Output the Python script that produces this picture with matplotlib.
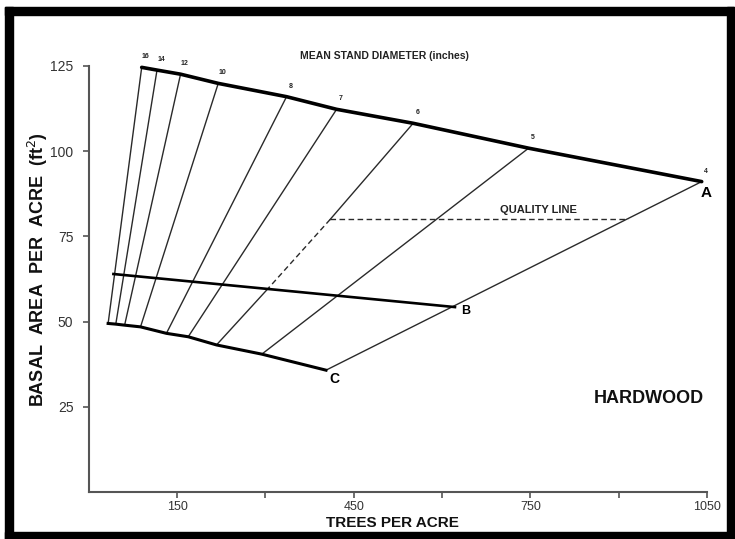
import numpy as np
import matplotlib
matplotlib.use("Agg")
import matplotlib.pyplot as plt
from matplotlib.patches import Rectangle

# mean stand diameter lines: where each one meets the A line and the C line
diameters = [16, 14, 12, 10, 8, 7, 6, 5, 4]
a_trees = [90, 116, 156, 220, 336, 421, 551, 747, 1041]
a_basal = [124.6, 123.8, 122.6, 119.9, 116.0, 112.3, 108.2, 100.9, 91.1]
c_trees = [33, 46, 61, 88, 132, 169, 217, 294, 403]
c_basal = [49.5, 49.3, 49.0, 48.5, 46.6, 45.6, 43.2, 40.5, 35.8]

# B line
b_trees = [42, 622]
b_basal = [64.0, 54.3]

# quality line, plus the dashed piece of the 6 inch line below it
quality_trees = [410, 916]
quality_basal = [80, 80]
dash_trees = [410, 306]
dash_basal = [80.0, 60.0]

yticks = [25, 50, 75, 100, 125]
xticks = [150, 450, 750, 1050]
xticks_minor = [300, 600, 900]

SANS = ['Liberation Sans', 'DejaVu Sans']

W, H = 735, 539
fig = plt.figure(figsize=(W / 100, H / 100), dpi=100)

# black scanned frame (pixel boxes: left, top, width, height)
for x0, y0, w, h in [(5, 7, 8, 532), (5, 7, 729, 8), (727, 7, 7, 532), (5, 532, 729, 7)]:
    fig.patches.append(Rectangle((x0 / W, 1 - (y0 + h) / H), w / W, h / H,
                                 transform=fig.transFigure, color='black', zorder=0))

ax = fig.add_axes([88.7 / W, 1 - 492.25 / H, (707 - 88.7) / W, (492.25 - 66) / H])
ax.set_xlim(0, 1050)
ax.set_ylim(0, 125)

line_col = '#2a2a2a'
# diameter lines
for i, d in enumerate(diameters):
    if d == 6:
        ax.plot([a_trees[i], dash_trees[0]], [a_basal[i], dash_basal[0]], color=line_col, lw=1.0, clip_on=False)
        ax.plot(dash_trees, dash_basal, color=line_col, lw=1.0, ls=(0, (4, 2.5)), clip_on=False)
        ax.plot([dash_trees[1], c_trees[i]], [dash_basal[1], c_basal[i]], color=line_col, lw=1.0, clip_on=False)
    else:
        ax.plot([a_trees[i], c_trees[i]], [a_basal[i], c_basal[i]], color=line_col, lw=1.0, clip_on=False)
    ax.annotate(str(d), (a_trees[i], a_basal[i]), xytext=(3, 5), textcoords='offset points',
                ha='center', va='bottom', fontsize=5, fontweight='bold', family=SANS, color='#222')

# A, B, C lines
ax.plot(a_trees, a_basal, color='black', lw=2.6, solid_capstyle='round', clip_on=False)
ax.plot(b_trees, b_basal, color='black', lw=1.9, clip_on=False)
ax.plot(c_trees, c_basal, color='black', lw=2.2, clip_on=False)

# quality line
ax.plot(quality_trees, quality_basal, color=line_col, lw=1.0, ls=(0, (4, 2.5)))
ax.text(0.727, 0.662, 'QUALITY LINE', transform=ax.transAxes, ha='center', va='center',
        fontsize=8, fontweight='bold', family=SANS, color='#222')

ax.annotate('A', (a_trees[-1], a_basal[-1]), xytext=(3, -8), textcoords='offset points',
            ha='center', va='center', fontsize=11, fontweight='bold', family=SANS)
ax.annotate('B', (b_trees[-1], b_basal[-1]), xytext=(8, -3), textcoords='offset points',
            ha='center', va='center', fontsize=9, fontweight='bold', family=SANS)
ax.annotate('C', (c_trees[-1], c_basal[-1]), xytext=(6, -6), textcoords='offset points',
            ha='center', va='center', fontsize=10, fontweight='bold', family=SANS)

ax.text(0.479, 1.012, 'MEAN STAND DIAMETER (inches)', transform=ax.transAxes, ha='center', va='bottom',
        fontsize=7.5, fontweight='bold', family=SANS, color='#222')
ax.text(0.906, 0.219, 'HARDWOOD', transform=ax.transAxes, ha='center', va='center',
        fontsize=13, fontweight='bold', family=SANS, color='#111')

# axes styling
for s in ['top', 'right']:
    ax.spines[s].set_visible(False)
for s in ['left', 'bottom']:
    ax.spines[s].set_color('#555')
    ax.spines[s].set_linewidth(1.5)

ax.set_yticks(yticks)
ax.set_yticklabels([str(v) for v in yticks], family=SANS, fontsize=10, color='#333')
ax.set_xticks(xticks)
ax.set_xticklabels([str(v) for v in xticks], family=SANS, fontsize=9, color='#333')
ax.set_xticks(xticks_minor, minor=True)
ax.tick_params(axis='both', which='both', direction='out', length=4, width=1.2, color='#555')
ax.tick_params(axis='y', pad=7)
ax.tick_params(axis='x', pad=2)

fig.text(38 / W, 1 - 270 / H, 'BASAL  AREA  PER  ACRE  (ft$^2$)', rotation=90, ha='center', va='center',
         fontsize=13, fontweight='bold', family=SANS, color='#111')
fig.text(392 / W, 1 - 523 / H, 'TREES PER ACRE', ha='center', va='center',
         fontsize=11, fontweight='bold', family=SANS, color='#111')

fig.savefig('out.png', dpi=100)
